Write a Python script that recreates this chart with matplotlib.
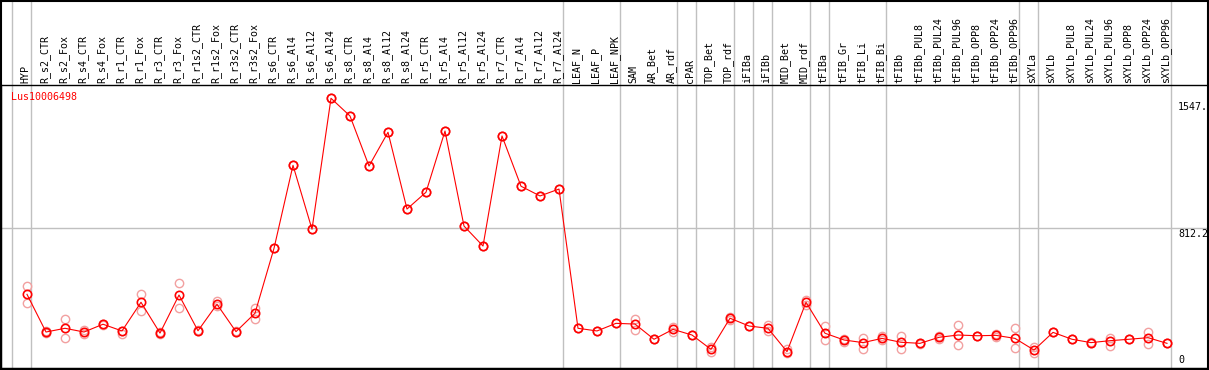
## Expression profile of one gene across tissues/conditions, drawn like the eFP-style strip chart
import numpy as np
import matplotlib.pyplot as plt
from matplotlib.patches import Rectangle
from matplotlib.transforms import blended_transform_factory

gene = "Lus10006498"

samples = ["HYP", "R_s2_CTR", "R_s2_Fox", "R_s4_CTR", "R_s4_Fox", "R_r1_CTR", "R_r1_Fox",
           "R_r3_CTR", "R_r3_Fox", "R_r1s2_CTR", "R_r1s2_Fox", "R_r3s2_CTR", "R_r3s2_Fox",
           "R_s6_CTR", "R_s6_Al4", "R_s6_Al12", "R_s6_Al24", "R_s8_CTR", "R_s8_Al4",
           "R_s8_Al12", "R_s8_Al24", "R_r5_CTR", "R_r5_Al4", "R_r5_Al12", "R_r5_Al24",
           "R_r7_CTR", "R_r7_Al4", "R_r7_Al12", "R_r7_Al24", "LEAF_N", "LEAF_P", "LEAF_NPK",
           "SAM", "AR_Bet", "AR_rdf", "cPAR", "TOP_Bet", "TOP_rdf", "iFIBa", "iFIBb",
           "MID_Bet", "MID_rdf", "tFIBa", "tFIB_Gr", "tFIB_Li", "tFIB_Bi", "tFIBb",
           "tFIBb_PUL8", "tFIBb_PUL24", "tFIBb_PUL96", "tFIBb_OPP8", "tFIBb_OPP24",
           "tFIBb_OPP96", "sXYLa", "sXYLb", "sXYLb_PUL8", "sXYLb_PUL24", "sXYLb_PUL96",
           "sXYLb_OPP8", "sXYLb_OPP24", "sXYLb_OPP96"]

# mean expression per sample
mean_expr = [439, 226, 247, 226, 270, 232, 394, 220, 435, 233, 383, 228, 332,
             699, 1168, 807, 1547, 1447, 1164, 1355, 921, 1016, 1362, 825, 712,
             1334, 1050, 995, 1034,
             247, 232, 275, 271, 185, 241, 209, 128, 304, 260, 247, 115, 394,
             219, 181, 166, 190, 168, 162, 196, 209, 205, 207, 190, 124, 224,
             185, 166, 177, 185, 194, 162]

# replicate values (upper / lower)
rep_hi = [486, 230, 298, 237, 274, 232, 439, 224, 505, 236, 401, 231, 363,
          699, 1168, 807, 1547, 1447, 1164, 1355, 921, 1016, 1362, 825, 712,
          1334, 1050, 995, 1034,
          247, 232, 275, 300, 185, 254, 209, 141, 311, 260, 266, 130, 407,
          260, 187, 190, 203, 205, 165, 203, 266, 205, 215, 247, 143, 224,
          185, 169, 192, 185, 228, 162]
rep_lo = [392, 222, 194, 215, 266, 215, 345, 216, 360, 230, 373, 225, 300,
          699, 1168, 807, 1547, 1447, 1164, 1355, 921, 1016, 1362, 825, 712,
          1334, 1050, 995, 1034,
          247, 232, 275, 237, 185, 226, 209, 113, 294, 260, 232, 107, 379,
          181, 170, 130, 181, 130, 159, 187, 153, 205, 198, 134, 109, 224,
          185, 163, 147, 185, 158, 162]

# last sample index of each group (gray separators)
group_ends = [-1, 0, 28, 31, 34, 35, 37, 38, 39, 41, 42, 45, 52, 53, 60]

# reference levels shown on the right
max_level = 1547.5
mid_level = 812.2

W, H = 1209, 370
fig = plt.figure(figsize=(W / 100, H / 100), dpi=100)

# plot area: x from px 1 to 1208, y from px 85 (header line) to 368
ax = fig.add_axes([1 / W, (H - 368) / H, 1207 / W, (368 - 85) / H])
x = np.arange(len(samples))
ax.set_xlim((1 - 27) / 19, (1208 - 27) / 19)
ax.set_ylim(22.6, 1622.1)
ax.set_xticks([])
ax.set_yticks([])
for s in ax.spines.values():
    s.set_linewidth(1.0)
    s.set_color("black")

mono = "DejaVu Sans Mono"
header_top = 368 / (368 - 85)  # axes fraction of figure top

# gray separators running through the header too
for e in group_ends:
    ax.axvline(e + 4 / 19, ymin=0, ymax=header_top, color="#c0c0c0", lw=1.0,
               clip_on=False, zorder=0)
ax.axhline(mid_level, color="#c0c0c0", lw=1.0, zorder=0)

# sample names, vertical, sitting on the header line
trans = blended_transform_factory(ax.transData, ax.transAxes)
for i, name in enumerate(samples):
    ax.text(i - 0.08, 1 + 2.5 / 283, name, transform=trans, rotation=90,
            ha="center", va="bottom", fontsize=7.2, family=mono, color="black")

# replicates then mean line
ax.plot(x, rep_hi, "o", ms=6, mfc="none", mec="#f2a0a0", mew=1.0, zorder=2)
ax.plot(x, rep_lo, "o", ms=6, mfc="none", mec="#f2a0a0", mew=1.0, zorder=2)
ax.plot(x, mean_expr, "-", color="red", lw=0.8, zorder=3)
ax.plot(x, mean_expr, "o", ms=6, mfc="none", mec="red", mew=1.2, zorder=4)

ax.text(10 / 1207, 1 - 12 / 283, gene, transform=ax.transAxes, ha="left",
        va="center", fontsize=7.2, family=mono, color="red")

# right-side level labels
xl = (1178 - 27) / 19
ax.annotate("1547.", (xl, max_level), xytext=(0, -3), textcoords="offset points",
            ha="left", va="top", fontsize=7.2, family=mono, annotation_clip=False)
ax.annotate("812.2", (xl, mid_level), xytext=(0, -0.5), textcoords="offset points",
            ha="left", va="top", fontsize=7.2, family=mono, annotation_clip=False)
ax.text(xl, 3 / 283, "0", transform=trans, ha="left", va="bottom", fontsize=7.2,
        family=mono)

# outer frame around header + plot
fig.add_artist(Rectangle((0.5 / W, (H - 368.5) / H), 1207.5 / W, 368 / H,
                         transform=fig.transFigure, fill=False, ec="black",
                         lw=1.5))

plt.savefig("out.png", dpi=100)
plt.close()
